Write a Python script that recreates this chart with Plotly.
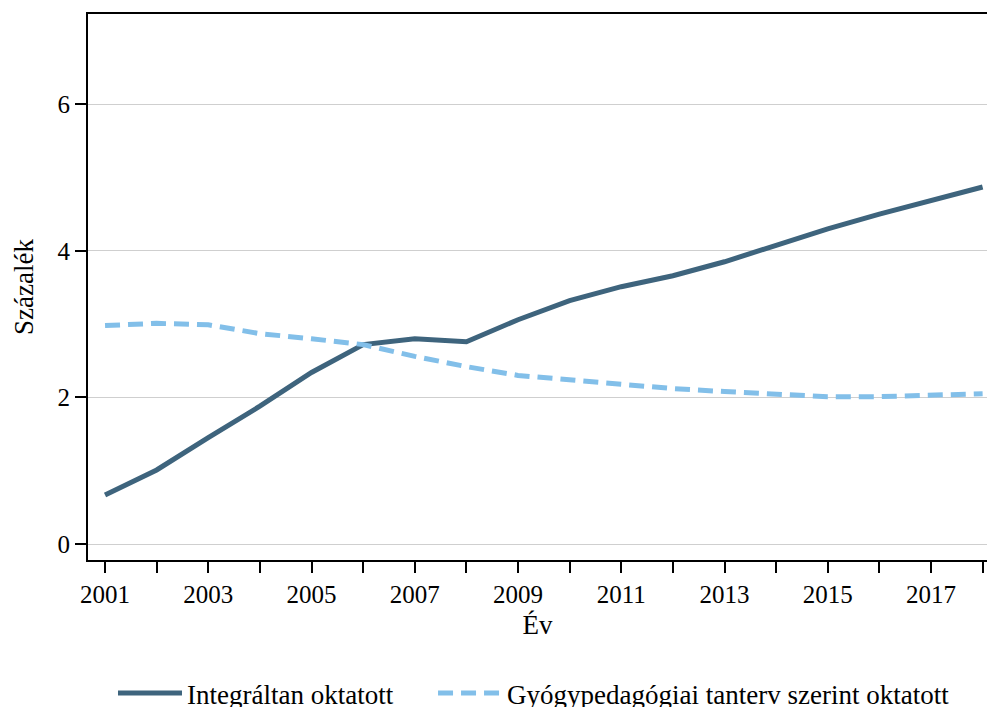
import plotly.graph_objects as go

years = list(range(2001, 2019))
integralt = [0.67, 1.01, 1.45, 1.88, 2.34, 2.72, 2.80, 2.76, 3.06, 3.32, 3.51, 3.66, 3.85, 4.07, 4.30, 4.50, 4.68, 4.87]
gyogyped = [2.98, 3.01, 2.99, 2.87, 2.80, 2.72, 2.56, 2.42, 2.30, 2.24, 2.19, 2.12, 2.08, 2.04, 2.01, 2.01, 2.03, 2.05]
series_names = ["Integráltan oktatott", "Gyógypedagógiai tanterv szerint oktatott"]
x_tickvals = list(range(2001, 2019))
x_ticktext = [str(y) if (y - 2001) % 2 == 0 else "" for y in x_tickvals]
y_tickvals = [0, 2, 4, 6]

FONT = "Liberation Serif"

fig = go.Figure()
fig.add_trace(go.Scatter(x=years, y=integralt, mode="lines", name=series_names[0],
                         line=dict(color="#3E647D", width=5), legend="legend", showlegend=True))
fig.add_trace(go.Scatter(x=years, y=gyogyped, mode="lines", name=series_names[1],
                         line=dict(color="#82BFE9", width=5, dash="15px,8px"),
                         legend="legend2", showlegend=True))

legend_style = dict(orientation="h", xanchor="left", y=-0.1996, yanchor="top",
                    font=dict(size=27, family=FONT), itemwidth=64,
                    bgcolor="rgba(0,0,0,0)", visible=True)

fig.update_layout(
    width=988, height=707,
    showlegend=True,
    margin=dict(l=88, r=1, t=14, b=147, autoexpand=False),
    paper_bgcolor="white", plot_bgcolor="white",
    font=dict(family=FONT, color="black", size=25),
    legend=dict(x=0.0278, **legend_style),
    legend2=dict(x=0.3838, **legend_style),
)
fig.update_xaxes(
    range=[2000.67, 2018.085], tickvals=x_tickvals, ticktext=x_ticktext,
    ticks="outside", ticklen=11, tickwidth=1.5, tickcolor="black",
    showline=True, linecolor="black", linewidth=2, mirror=True,
    showgrid=False, zeroline=False, automargin=False,
    tickfont=dict(size=25, family=FONT),
    title=dict(text="Év", font=dict(size=27, family=FONT), standoff=8),
)
fig.update_yaxes(
    range=[-0.218, 7.23], tickvals=y_tickvals,
    ticks="outside", ticklen=11, tickwidth=1.5, tickcolor="black",
    showline=True, linecolor="black", linewidth=2,
    showgrid=True, gridcolor="#cfcfcf", gridwidth=1, zeroline=False, automargin=False,
    tickfont=dict(size=25, family=FONT),
    title=dict(text="Százalék", font=dict(size=27, family=FONT), standoff=16),
)
fig.write_html("out.html", config={"displayModeBar": False},
               post_script="document.body.style.margin='0';document.body.style.overflow='hidden';")
